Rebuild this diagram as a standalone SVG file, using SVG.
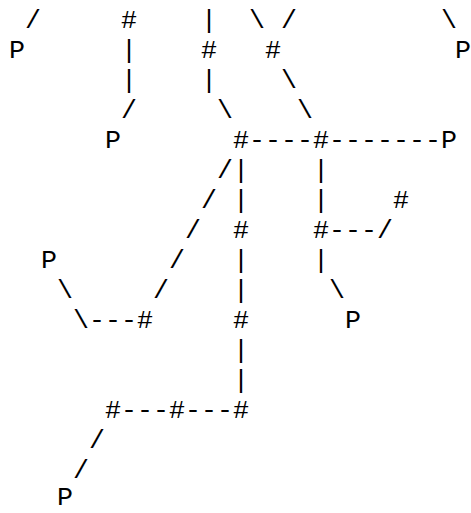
<svg xmlns="http://www.w3.org/2000/svg" width="471" height="513" viewBox="0 0 471 513">
<style>
text { font-family: "Liberation Mono", "Courier New", monospace; font-size: 26.67px; fill: #000; }
.c { text-anchor: middle; }
</style>
<rect width="471" height="513" fill="#fff"/>
<g id="connectors">
<text class="c" x="33" y="27.5">/</text>
<text class="c" x="209" y="27.5">|</text>
<text class="c" x="257" y="27.5">\</text>
<text class="c" x="289" y="27.5">/</text>
<text class="c" x="449" y="27.5">\</text>
<text class="c" x="129" y="57.6">|</text>
<text class="c" x="129" y="87.6">|</text>
<text class="c" x="209" y="87.6">|</text>
<text class="c" x="289" y="87.6">\</text>
<text class="c" x="129" y="117.7">/</text>
<text class="c" x="225" y="117.7">\</text>
<text class="c" x="305" y="117.7">\</text>
<text x="249" y="147.7">----</text>
<text x="329" y="147.7">-------</text>
<text class="c" x="225" y="177.8">/</text>
<text class="c" x="241" y="177.8">|</text>
<text class="c" x="321" y="177.8">|</text>
<text class="c" x="209" y="207.8">/</text>
<text class="c" x="241" y="207.8">|</text>
<text class="c" x="321" y="207.8">|</text>
<text class="c" x="193" y="237.9">/</text>
<text x="329" y="237.9">---</text>
<text class="c" x="385" y="237.9">/</text>
<text class="c" x="177" y="267.9">/</text>
<text class="c" x="241" y="267.9">|</text>
<text class="c" x="321" y="267.9">|</text>
<text class="c" x="65" y="298">\</text>
<text class="c" x="161" y="298">/</text>
<text class="c" x="241" y="298">|</text>
<text class="c" x="337" y="298">\</text>
<text class="c" x="81" y="328">\</text>
<text x="89" y="328">---</text>
<text class="c" x="241" y="358.1">|</text>
<text class="c" x="241" y="388.1">|</text>
<text x="121" y="418.2">---</text>
<text x="185" y="418.2">---</text>
<text class="c" x="97" y="448.2">/</text>
<text class="c" x="81" y="478.3">/</text>
</g>
<g id="P1"><text class="c" x="17" y="57.6">P</text></g>
<g id="P2"><text class="c" x="463" y="57.6">P</text></g>
<g id="P3"><text class="c" x="113" y="147.7">P</text></g>
<g id="P4"><text class="c" x="449" y="147.7">P</text></g>
<g id="P5"><text class="c" x="49" y="267.9">P</text></g>
<g id="P6"><text class="c" x="353" y="328">P</text></g>
<g id="P7"><text class="c" x="65" y="505">P</text></g>
<g id="H1"><text class="c" x="129" y="27.5">#</text></g>
<g id="H2"><text class="c" x="209" y="57.6">#</text></g>
<g id="H3"><text class="c" x="273" y="57.6">#</text></g>
<g id="H4"><text class="c" x="241" y="147.7">#</text></g>
<g id="H5"><text class="c" x="321" y="147.7">#</text></g>
<g id="H6"><text class="c" x="401" y="207.8">#</text></g>
<g id="H7"><text class="c" x="241" y="237.9">#</text></g>
<g id="H8"><text class="c" x="321" y="237.9">#</text></g>
<g id="H9"><text class="c" x="145" y="328">#</text></g>
<g id="H10"><text class="c" x="241" y="328">#</text></g>
<g id="H11"><text class="c" x="113" y="418.2">#</text></g>
<g id="H12"><text class="c" x="177" y="418.2">#</text></g>
<g id="H13"><text class="c" x="241" y="418.2">#</text></g>
</svg>
